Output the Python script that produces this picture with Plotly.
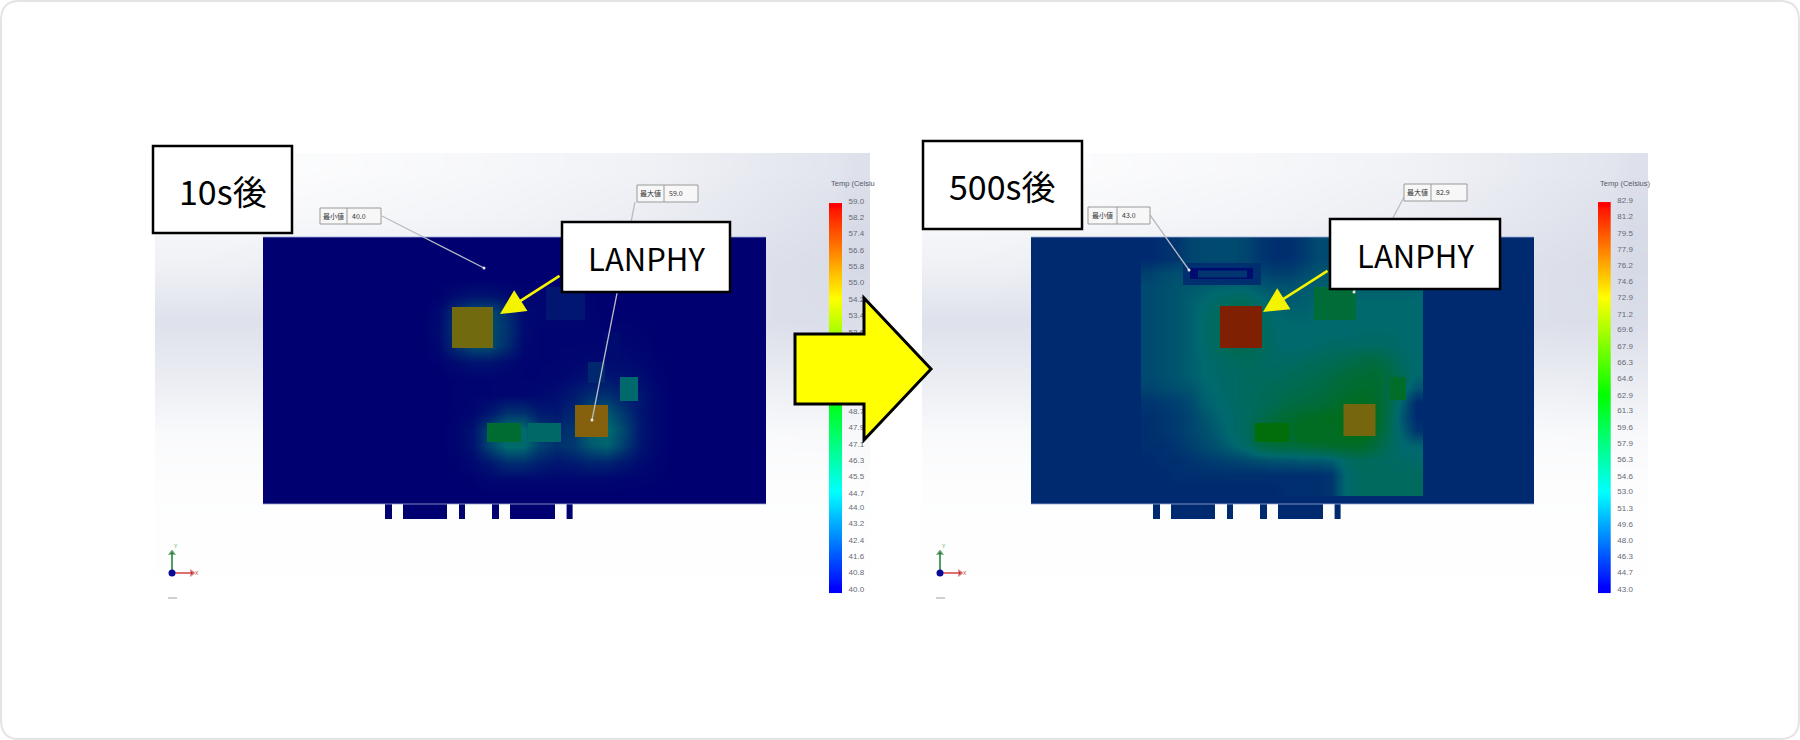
import plotly.graph_objects as go

W, H = 1800, 740

# ---------- legend values ----------
legend_10s = [59.0,58.2,57.4,56.6,55.8,55.0,54.2,53.4,52.6,51.8,51.0,50.2,49.5,48.7,47.9,47.1,46.3,45.5,44.7,44.0,43.2,42.4,41.6,40.8,40.0]
legend_500s = [82.9,81.2,79.5,77.9,76.2,74.6,72.9,71.2,69.6,67.9,66.3,64.6,62.9,61.3,59.6,57.9,56.3,54.6,53.0,51.3,49.6,48.0,46.3,44.7,43.0]

# ---------- temperature field, 10 s (whole board, 30 x 16 cells) ----------
field_10s = [
 [40,40,40,40,40,40,40,40,40,40,40,40,40,40,40,40,40,40,40,40,40,40,40,40,40,40,40,40,40,40],
 [40,40,40,40,40,40,40,40,40,40,40,40,40,40,40,40,40,40,40,40,40,40,40,40,40,40,40,40,40,40],
 [40,40,40,40,40,40,40,40,40,40,40,40,40,40,40,40,40,40,40,40,40,40,40,40,40,40,40,40,40,40],
 [40,40,40,40,40,40,40,40,40,40,40.1,40.5,40.8,40.8,40.5,40.2,40.2,40.2,40.2,40.1,40,40,40,40,40,40,40,40,40,40],
 [40,40,40,40,40,40,40,40,40,40,40.4,42,43.5,43.5,42,40.4,40.3,40.3,40.3,40.2,40,40,40,40,40,40,40,40,40,40],
 [40,40,40,40,40,40,40,40,40,40,40.5,42.3,43.5,43.5,42.3,40.5,40.2,40.2,40.2,40.2,40.1,40.2,40.1,40,40,40,40,40,40,40],
 [40,40,40,40,40,40,40,40,40,40,40.4,42,43.5,43.5,42,40.4,40.2,40.2,40.2,40.2,40.2,40.3,40.2,40,40,40,40,40,40,40],
 [40,40,40,40,40,40,40,40,40,40,40.1,40.5,40.8,40.8,40.5,40.2,40.2,40.2,40.3,40.4,40.5,40.5,40.3,40.1,40,40,40,40,40,40],
 [40,40,40,40,40,40,40,40,40,40,40,40.1,40.2,40.2,40.2,40.2,40.2,40.3,40.5,40.9,41,40.8,40.6,40.2,40,40,40,40,40,40],
 [40,40,40,40,40,40,40,40,40,40,40,40.1,40.2,40.2,40.3,40.3,40.4,40.6,41.2,42,42.2,41.4,41,40.3,40,40,40,40,40,40],
 [40,40,40,40,40,40,40,40,40,40,40,40.1,40.3,41,42.2,42.2,41.2,41,41.8,43.5,44,42.4,40.9,40.3,40,40,40,40,40,40],
 [40,40,40,40,40,40,40,40,40,40,40,40.2,40.8,43,45,45,42.5,41.8,42.4,44.5,45,43.2,41,40.3,40,40,40,40,40,40],
 [40,40,40,40,40,40,40,40,40,40,40,40.2,40.8,43.2,45,45,43,42.2,42.6,44,44.5,42.8,40.9,40.3,40,40,40,40,40,40],
 [40,40,40,40,40,40,40,40,40,40,40,40.1,40.4,41,42,42,41.4,41,41.2,41.6,41.6,41,40.5,40.2,40,40,40,40,40,40],
 [40,40,40,40,40,40,40,40,40,40,40,40,40.1,40.3,40.4,40.4,40.4,40.3,40.3,40.3,40.3,40.2,40.2,40.1,40,40,40,40,40,40],
 [40,40,40,40,40,40,40,40,40,40,40,40,40,40,40,40,40,40,40,40,40,40,40,40,40,40,40,40,40,40],
]

# ---------- temperature field, 500 s (inner warm zone, 20 x 18 cells) ----------
zone_500s = [
 [47,47.5,48,49.5,50,50,50,49.5,48,47.5,47.5,48.5,50,50,50,50,49.5,49,49,49],
 [47,47.5,48,49.5,50,50,50,49.5,48,47.5,47.5,48.5,50,50,50,50,50,50,50,50],
 [49,50,50.5,50,49,49,49,50,49.5,49,49,50,51,51,51,51,51,51,51,51],
 [50,50.5,51,51.5,52,52.5,52.5,52.5,51.5,51,51,51.5,52,52,52,52,52,52,52,52.5],
 [50,50.5,51,52,53,54,55,55,53.5,52,51.5,52,52.5,53,53,53,53,53,53,53],
 [50,50.5,51,52,53.5,55,56,56,54.5,53,52.5,52.5,53,53,53,53,53,53,53,53],
 [50,50.5,51,52,53.5,55,56,56,55,53.5,53,53,53,53,53,53.5,53.5,53.5,53,53],
 [50,50.5,51,52,53.5,55,56,56,55,53.5,53,53,53.5,54,54,54,54,54,53.5,53],
 [50,50.5,51,52,53,54,54.5,55,54.5,54,54,54.5,55,55.5,56,57,57.5,56,54,53],
 [50,50.5,51,52,53,53.5,54,54.5,54.5,54.5,55,55.5,56,57,58,58.5,59,57.5,55,53],
 [49.5,50,50.5,51,52.5,53.5,54,54.5,55,55.5,56,56.5,57,58,59,59.5,59.5,57.5,54,51],
 [48,48.5,49,50,52,53,54,54.5,55,56,57,57.5,58,59,60,60.5,60,57,52,47],
 [47.5,48,48.5,49.5,51,52.5,53.5,54.5,56,58,59,60,60.5,61,61,62,61,56.5,51,47],
 [47.5,48,48.5,49.5,50.5,52,53.5,55,58,60,60,60.5,61,61,61,62,60,56,52,48],
 [47.5,47.5,48,49,50,51,52.5,54,57,58,58,58.5,59,59.5,60,60,58,55,53,52.5],
 [47,47.5,47.5,48,48.5,49,49.5,50,50.5,51,51,51.5,51.5,52,54,55,54.5,54,54,53.5],
 [47,47,47.5,47.5,47.5,47.5,47.5,47.5,47.5,47.5,47.5,47.5,47.5,48,53,54.5,54.5,54.5,54.5,54.5],
 [47,47,47,47,47,47,47,47,47,47,47.5,47.5,47.5,48,53,54.5,54.5,54.5,54.5,54.5],
]
base_500s = 47.0

# ---------- component blocks: x0, x1, y0, y1, temperature ----------
blocks_10s_x0 = [546,588,604,452,575,487,528,620]
blocks_10s_x1 = [585,605,620,493,608,520.5,561,638]
blocks_10s_y0 = [287,362,332,307,405,423,423,377]
blocks_10s_y1 = [320,383,362,348,437,442,442,401]
blocks_10s_t  = [41,41.8,40.5,54.3,56,47.6,45.1,44.9]

blocks_500s_x0 = [1183,1190,1198,1314,1220,1343.5,1255,1297,1390]
blocks_500s_x1 = [1261,1253,1247,1356,1261.6,1375,1289,1336,1406]
blocks_500s_y0 = [263,268,270.5,287,306,404,423,423,377]
blocks_500s_y1 = [285,279,277,320,348,436,442,442,400]
blocks_500s_t  = [47.5,44,48,58.5,81.8,74,63,60.5,60]

tab_left  = [385,403,459,492,510,566.6]
tab_right = [392,447,465,499,554.5,572.4]

dark_scale = [[0,"rgb(0,0,112)"],[0.25,"rgb(0,105,110)"],[0.5,"rgb(0,110,10)"],
              [0.75,"rgb(112,106,14)"],[0.875,"rgb(140,92,12)"],[1,"rgb(125,15,0)"]]
bright_scale = [[0,"#0000ff"],[0.25,"#00ffff"],[0.5,"#00ff00"],[0.75,"#ffff00"],[1,"#ff0000"]]
back_scale = [[0,"#ffffff"],[1,"#d6dae6"]]

# ---------- viewport background (edges of the cells, measured from the panel corner) ----------
back_x = [0,100,250,400,550,680,715]
back_y = [153,190,240,295,350,405,460,515,570,598]
back_left = [
 [0.0,0.1,0.2,0.35,0.6,0.8],
 [0.15,0.2,0.3,0.45,0.7,0.95],
 [0.4,0.45,0.55,0.65,0.85,1.0],
 [0.8,0.8,0.8,0.8,0.85,0.9],
 [0.5,0.5,0.5,0.5,0.5,0.55],
 [0.15,0.15,0.15,0.15,0.15,0.18],
 [0.05,0.05,0.05,0.05,0.05,0.05],
 [0.02,0.02,0.02,0.02,0.02,0.02],
 [0.01,0.01,0.01,0.01,0.01,0.01],
]
back_right = back_left

fig = go.Figure()

def block(x0, x1, y0, y1, t, zmin, zmax):
    fig.add_trace(go.Heatmap(x=[x0, x1], y=[y0, y1], z=[[t]], zmin=zmin, zmax=zmax,
                             colorscale=dark_scale, showscale=False, hoverinfo="skip"))

PANEL_L, PANEL_R = 155, 922
for ox, width, back in ((PANEL_L, 715, back_left), (PANEL_R, 726, back_right)):
    fig.add_trace(go.Heatmap(x=[ox + v * width / 715 for v in back_x], y=back_y, z=back, zmin=0, zmax=1,
                             colorscale=back_scale, showscale=False, zsmooth="best", hoverinfo="skip"))

# 10 s board
BX, BY, BW, BH = 263, 237, 503, 267
for a, b in zip(tab_left, tab_right):
    block(a, b, BY + BH - 1, BY + BH + 14.5, 40, 40, 59)
fig.add_trace(go.Heatmap(z=field_10s, x0=BX + BW / 60, dx=BW / 30, y0=BY + BH / 32, dy=BH / 16,
                         zmin=40, zmax=59, colorscale=dark_scale, showscale=False, zsmooth="best", hoverinfo="skip"))
for x0, x1, y0, y1, t in zip(blocks_10s_x0, blocks_10s_x1, blocks_10s_y0, blocks_10s_y1, blocks_10s_t):
    block(x0, x1, y0, y1, t, 40, 59)

# 500 s board
DX = 768
for a, b in zip(tab_left, tab_right):
    block(a + DX, b + DX, BY + BH - 1, BY + BH + 14.5, base_500s, 43, 82.9)
block(BX + DX, BX + DX + BW, BY, BY + BH, base_500s, 43, 82.9)
ZX, ZY, ZW, ZH = 1141, 237, 282, 259
fig.add_trace(go.Heatmap(z=zone_500s, x0=ZX + ZW / 40, dx=ZW / 20, y0=ZY + ZH / 36, dy=ZH / 18,
                         zmin=43, zmax=82.9, colorscale=dark_scale, showscale=False, zsmooth="best", hoverinfo="skip"))
for x0, x1, y0, y1, t in zip(blocks_500s_x0, blocks_500s_x1, blocks_500s_y0, blocks_500s_y1, blocks_500s_t):
    block(x0, x1, y0, y1, t, 43, 82.9)

# pale outline along the long board edges
for ox in (BX, BX + DX):
    for ey in (BY, BY + BH):
        fig.add_trace(go.Scatter(x=[ox, ox + BW], y=[ey, ey], mode="lines", line=dict(color="rgba(150,170,215,0.8)", width=1),
                                 hoverinfo="skip", showlegend=False))

# leader lines with probe dots
leader_x = [[382, 484], [635, 592], [1150, 1189], [1404, 1354]]
leader_y = [[216, 268], [202, 420], [215, 270], [197, 292]]
for lx, ly in zip(leader_x, leader_y):
    fig.add_trace(go.Scatter(x=lx, y=ly, mode="lines", line=dict(color="#b9bcc4", width=1.3), hoverinfo="skip", showlegend=False))
    fig.add_trace(go.Scatter(x=lx[1:], y=ly[1:], mode="markers", marker=dict(color="#e8e8e8", size=3), hoverinfo="skip", showlegend=False))

# coordinate triads and the small mark under each
for ox in (172, 940):
    fig.add_trace(go.Scatter(x=[ox, ox], y=[573, 553], mode="lines+markers", line=dict(color="#4f9f5f", width=2),
                             marker=dict(color="#0b5a1f", size=[1, 6], symbol="triangle-up"), hoverinfo="skip", showlegend=False))
    fig.add_trace(go.Scatter(x=[ox, ox + 20], y=[573, 573], mode="lines+markers", line=dict(color="#e07070", width=2),
                             marker=dict(color="#a81818", size=[1, 6], symbol="triangle-right"), hoverinfo="skip", showlegend=False))
    fig.add_trace(go.Scatter(x=[ox], y=[573], mode="markers", marker=dict(color="#0a0a9a", size=7), hoverinfo="skip", showlegend=False))
    fig.add_trace(go.Scatter(x=[ox - 4, ox + 5], y=[598, 598], mode="lines", line=dict(color="#a0a0a0", width=1), hoverinfo="skip", showlegend=False))

# legend bars on their own value axes
def legend_bar(vals, xname, yname):
    edges = [vals[-1] - 0.2 * (vals[0] - vals[-1]) / 19]
    asc = vals[::-1]
    edges += [(asc[i] + asc[i + 1]) / 2 for i in range(len(asc) - 1)]
    edges += [vals[0] - 0.1 * (vals[0] - vals[-1]) / 19]
    fig.add_trace(go.Heatmap(x=[0, 0.5, 1], y=edges, z=[[v, v] for v in asc], zmin=vals[-1], zmax=vals[0],
                             colorscale=bright_scale, showscale=False, zsmooth="best", hoverinfo="skip",
                             xaxis=xname, yaxis=yname))

legend_bar(legend_10s, "x2", "y2")
legend_bar(legend_500s, "x3", "y3")

tickfont = dict(family="Liberation Sans", size=8, color="#666a75")
def val_axis(vals, top_px, bot_px, x_anchor):
    span = (vals[0] - vals[-1]) / (bot_px - top_px)
    lo = vals[-1] - 7 * span
    hi = vals[0] + 3 * span
    return dict(domain=[1 - (bot_px + 7) / H, 1 - (top_px - 3) / H], range=[lo, hi], anchor=x_anchor, side="right",
                tickmode="array", tickvals=vals, ticktext=[f"{v:.1f}" for v in vals], tickfont=tickfont,
                ticks="outside", ticklen=4, tickcolor="rgba(0,0,0,0)", showgrid=False, zeroline=False, showline=False)

# frame / block arrow / labels
boxes = [(153, 146, 292, 233), (923, 141, 1082, 229), (562, 222, 730, 292), (1330, 219, 1500, 289)]
mini = [(320, 208, 381, 224, 347), (637, 185, 698, 202, 664), (1088, 207, 1150, 224, 1117), (1404, 184, 1467, 201, 1431)]
arrow_x = [795, 864, 864, 931, 864, 864, 795]
arrow_y = [334, 334, 298, 369, 440, 404, 404]

shapes = [dict(type="path", layer="above", path="M19,1 H1780 Q1799,1 1799,20 V720 Q1799,739 1780,739 H19 Q1,739 1,720 V20 Q1,1 19,1 Z",
               line=dict(color="#e4e4e4", width=2), xref="x", yref="y")]
for x0, y0, x1, y1, dv in mini:
    shapes.append(dict(type="rect", layer="above", x0=x0, y0=y0, x1=x1, y1=y1, xref="x", yref="y",
                       fillcolor="#f7f7f7", line=dict(color="#9a9a9a", width=1)))
    shapes.append(dict(type="line", layer="above", x0=dv, y0=y0, x1=dv, y1=y1, xref="x", yref="y", line=dict(color="#9a9a9a", width=1)))
for x0, y0, x1, y1 in boxes:
    shapes.append(dict(type="rect", layer="above", x0=x0, y0=y0, x1=x1, y1=y1, xref="x", yref="y",
                       fillcolor="#ffffff", line=dict(color="#000000", width=2.5)))
shapes.append(dict(type="path", layer="above", xref="x", yref="y", fillcolor="#ffff00", line=dict(color="#000000", width=3),
                   path="M" + " L".join(f"{a},{b}" for a, b in zip(arrow_x, arrow_y)) + " Z"))

cjk = "Noto Sans CJK JP"
ann = []
def text(x, y, s, size, color="#000000", family=cjk, anchor="center"):
    ann.append(dict(x=x, y=y, xref="x", yref="y", text=s, showarrow=False, xanchor=anchor, yanchor="middle",
                    font=dict(family=family, size=size, color=color)))

text(223, 190, "10s後", 34)
text(1002, 185, "500s後", 34)
text(646, 257, "LANPHY", 31)
text(1415, 254, "LANPHY", 31)
text(333, 216, "最小値", 7, "#333333")
text(350, 216, "40.0", 7, "#333333", anchor="left")
text(650, 193, "最大値", 7, "#333333")
text(667, 193, "59.0", 7, "#333333", anchor="left")
text(1102, 215, "最小値", 7, "#333333")
text(1120, 215, "43.0", 7, "#333333", anchor="left")
text(1417, 192, "最大値", 7, "#333333")
text(1434, 192, "82.9", 7, "#333333", anchor="left")
text(829, 183, "Temp (Celsiu", 7.5, "#555a66", "Liberation Sans", "left")
text(1598, 183, "Temp (Celsius)", 7.5, "#555a66", "Liberation Sans", "left")
text(176, 546, "Y", 5, "#3f9a3f", "Liberation Sans")
text(197, 573, "X", 5, "#c04040", "Liberation Sans")
text(944, 546, "Y", 5, "#3f9a3f", "Liberation Sans")
text(965, 573, "X", 5, "#c04040", "Liberation Sans")

for tip_x, tip_y, tail_x, tail_y in ((500, 314, 561, 275), (1263, 312, 1329, 270)):
    ann.append(dict(x=tip_x, y=tip_y, ax=tail_x, ay=tail_y, xref="x", yref="y", axref="x", ayref="y", text="",
                    showarrow=True, arrowhead=2, arrowsize=1.9, arrowwidth=2.6, arrowcolor="#f4f400"))

fig.update_layout(
    width=W, height=H, margin=dict(l=0, r=0, t=0, b=0), paper_bgcolor="#ffffff", plot_bgcolor="rgba(0,0,0,0)", showlegend=False,
    xaxis=dict(domain=[0, 1], range=[0, W], visible=False, fixedrange=True),
    yaxis=dict(domain=[0, 1], range=[H, 0], visible=False, fixedrange=True),
    xaxis2=dict(domain=[829 / W, 842 / W], range=[0, 1], visible=False, anchor="y2", fixedrange=True),
    yaxis2=val_axis(legend_10s, 201, 589, "x2"),
    xaxis3=dict(domain=[1598 / W, 1610.7 / W], range=[0, 1], visible=False, anchor="y3", fixedrange=True),
    yaxis3=val_axis(legend_500s, 200, 588.7, "x3"),
    shapes=shapes, annotations=ann,
)

fig.write_html("out.html", config=dict(displayModeBar=False, staticPlot=True),
               post_script="document.body.style.margin='0';")
